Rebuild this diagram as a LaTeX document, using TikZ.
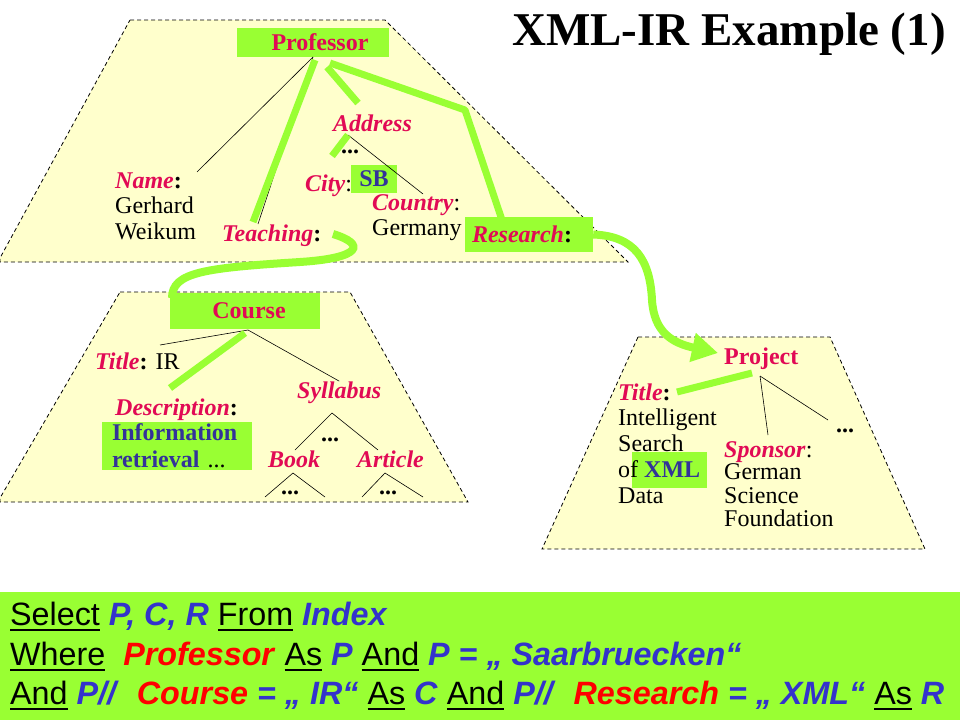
\documentclass[tikz,border=0pt]{standalone}
\usepackage{fontspec}
\setmainfont{Liberation Serif}
\setsansfont{Liberation Sans}
\usetikzlibrary{arrows.meta,calc}
\definecolor{tagred}{RGB}{225,10,85}
\definecolor{hlgreen}{RGB}{153,255,51}
\definecolor{paleyel}{RGB}{255,255,204}
\definecolor{valblue}{RGB}{51,51,153}
\definecolor{qblue}{RGB}{51,51,204}
\definecolor{qred}{RGB}{255,0,0}
\newcommand{\tagn}[1]{\textcolor{tagred}{\textbf{\textit{#1}}}}
\newcommand{\qkw}[1]{\setbox0\hbox{#1}\rlap{\rule[-5.5pt]{\wd0}{1.6pt}}\box0\relax}
\newcommand{\qb}[1]{\textcolor{qblue}{\textbf{\textit{#1}}}}
\newcommand{\qr}[1]{\textcolor{qred}{\textbf{\textit{#1}}}}
\tikzset{%
  txt/.style={anchor=base west,inner sep=0,font=\fontsize{24}{26}\selectfont},
  hbox/.style={fill=hlgreen,inner sep=0,font=\fontsize{24}{27}\selectfont\bfseries},
  trap/.style={draw=black,fill=paleyel,line width=0.8,dash pattern=on 4 off 3},
  tline/.style={draw=black,line width=0.6},
  hpath/.style={draw=hlgreen,line width=7},
  qline/.style={anchor=base west,inner sep=0,font=\fontsize{32.3}{39}\sffamily}
}

\begin{document}
\begin{tikzpicture}[x=1pt,y=-1pt]
    \useasboundingbox (0,0) rectangle (960,720);
    \path[trap] (130,20) -- (385,20) -- (628,262) -- (0,262) -- (0,258) -- cycle;
    \path[trap] (120,292) -- (350,292) -- (468,502) -- (0,502) -- (0,498) -- cycle;
    \path[trap] (638,337) -- (830,337) -- (925,549) -- (542,549) -- cycle;
    \fill[hlgreen] (0,592) rectangle (960,720);

    \node[font=\fontsize{47}{50}\selectfont\bfseries] (head) at (729,34) {XML-IR Example (1)};

    \node[hbox,minimum width=152,minimum height=29,text=tagred] (prof) at (313,42.5) {\hspace*{14pt}Professor};
    \coordinate (proot) at (313,57);
    \node[txt] (name) at (115,188) {\tagn{Name}\textbf{:}};
    \node[txt] (gerhard) at (115,213) {Gerhard};
    \node[txt] (weikum) at (115,239) {Weikum};
    \node[txt] (teach) at (222,241) {\tagn{Teaching}\textbf{:}};
    \node[txt] (addr) at (333,131) {\tagn{Address}};
    \node[txt] (adots) at (341,153) {\textbf{...}};
    \node[txt] (city) at (305,191) {\tagn{City}:};
    \node[hbox,minimum width=46,minimum height=28,text=valblue] (sb) at (374,179) {SB};
    \node[txt] (country) at (372,210) {\tagn{Country}:};
    \node[txt] (germany) at (372,235) {Germany};
    \node[hbox,minimum width=128,minimum height=35] (research) at (529,234.5) {\tagn{Research}\textbf{:}\hspace*{14pt}};

    \node[hbox,minimum width=150,minimum height=36,text=tagred] (course) at (245,311) {\hspace*{8pt}Course};
    \coordinate (croot) at (248,330);
    \node[txt] (title) at (95,369) {\tagn{Title}\textbf{:} IR};
    \node[txt] (syll) at (297,398) {\tagn{Syllabus}};
    \node[txt] (desc) at (115,415) {\tagn{Description}\textbf{:}};
    \node[hbox,minimum width=150,minimum height=48,text width=130,align=left,text=valblue] (info) at (177,446) {Information\\retrieval \textcolor{black}{\mdseries...}};
    \node[txt] (sdots) at (321,441) {\textbf{...}};
    \node[txt] (book) at (268,467) {\tagn{Book}};
    \node[txt] (article) at (357,467) {\tagn{Article}};
    \node[txt] (bdots) at (281,494) {\textbf{...}};
    \node[txt] (ardots) at (379,494) {\textbf{...}};

    \node[txt] (proj) at (724,364) {\textcolor{tagred}{\textbf{Project}}};
    \coordinate (jroot) at (760,376);
    \node[txt] (jdots) at (836,432) {\textbf{...}};
    \node[txt] (ptitle) at (618,400) {\tagn{Title}\textbf{:}};
    \node[txt] (intel) at (618,425) {Intelligent};
    \node[txt] (search) at (618,451) {Search};
    \node[hbox,minimum width=75,minimum height=36] (xmlbox) at (669.5,470) {};
    \node[txt] (ofxml) at (618,477) {of \textcolor{valblue}{\textbf{XML}}};
    \node[txt] (data) at (618,503) {Data};
    \node[txt] (sponsor) at (724,457) {\tagn{Sponsor}:};
    \node[txt] (german) at (724,479) {German};
    \node[txt] (science) at (724,503) {Science};
    \node[txt] (found) at (724,526) {Foundation};

    \coordinate (namein) at (197,172);
    \coordinate (teachin) at (258,224);
    \coordinate (addrout) at (348,135);
    \coordinate (cityin) at (332,156);
    \coordinate (countryin) at (423,194);
    \draw[tline] (proot) -- (namein);
    \draw[tline] (proot) -- (teachin);
    \draw[tline] (addrout) -- (countryin);
    \draw[hpath] (315,60) -- (253,222);
    \draw[hpath] (327,67) -- (358,103);
    \draw[hpath] (addrout) -- (cityin);
    \draw[hpath,line join=round] (330,63) -- (465,110) -- (502,220);

    \draw[hlgreen,line width=8] (333,234) .. controls (366,244) and (362,258) .. (300,262)
      .. controls (205,268) and (172,272) .. (172,298);
    \coordinate (projin) at (718,353);
    \draw[hlgreen,line width=8,-{Triangle[length=26pt,width=28pt]}] (research.east)
      .. controls (635,236) and (650,260) .. (652,300)
      .. controls (654,332) and (672,343) .. (projin);

    \coordinate (titlein) at (160,345);
    \coordinate (sapex) at (332,413);
    \coordinate (bookin) at (295,450);
    \coordinate (articlein) at (378,450);
    \draw[tline] (croot) -- (titlein);
    \draw[tline] (croot) -- (syll.north);
    \draw[hpath] (245,333) -- (170,388);
    \draw[tline] (bookin) -- (sapex) -- (articlein);
    \draw[tline] (265,497) -- (293,473) -- (325,497);
    \draw[tline] (362,497) -- (385,473) -- (423,497);

    \coordinate (sponsorin) at (768,435);
    \coordinate (jdotsin) at (828,420);
    \draw[tline] (jroot) -- (sponsorin);
    \draw[tline] (jroot) -- (jdotsin);
    \draw[hpath] (752,373) -- (677,392);

    \node[qline] (q1) at (10,625) {\qkw{Select} \qb{P, C, R} \qkw{From} \qb{Index}};
    \node[qline] (q2) at (10,665) {\qkw{Where}\ \ \qr{Professor} \qkw{As} \qb{P} \qkw{And} \qb{P = „ Saarbruecken“}};
    \node[qline] (q3) at (10,704) {\qkw{And} \qb{P//}\ \ \qr{Course} \qb{= „ IR“} \qkw{As} \qb{C} \qkw{And} \qb{P//}\ \ \qr{Research} \qb{= „ XML“} \qkw{As} \qb{R}};
\end{tikzpicture}
\end{document}
